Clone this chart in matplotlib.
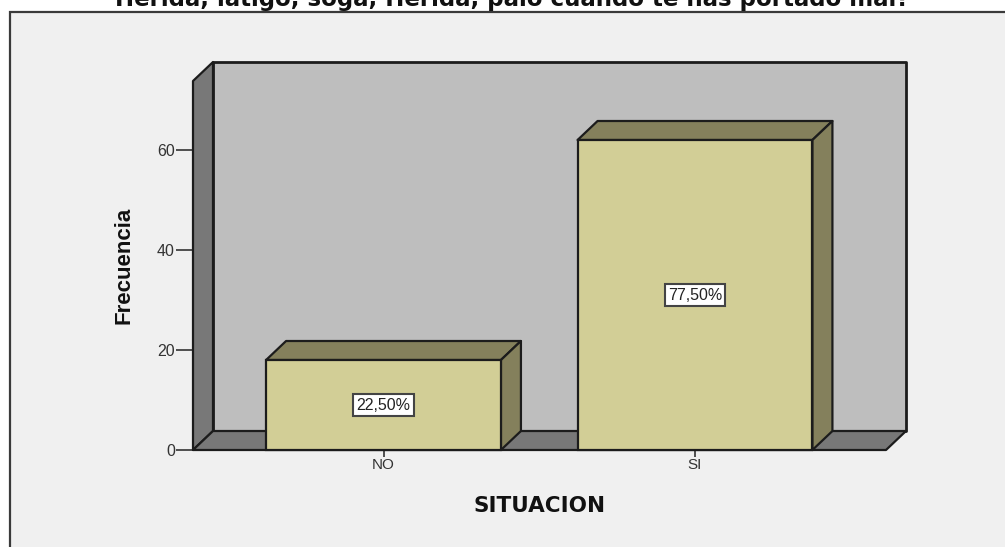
import matplotlib
matplotlib.use("Agg")
import matplotlib.pyplot as plt
from matplotlib.patches import Polygon, Rectangle

categorias = ["NO", "SI"]
frecuencia = [18, 62]
porcentajes = ["22,50%", "77,50%"]
marcas_y = [0, 20, 40, 60]
titulo = "Herida, latigo, soga, Herida, palo cuando te has portado mal?"

W, H = 1005, 547
FONDO = "#f0f0f0"
PARED = "#bebebe"
LATERAL = "#787878"
BARRA = "#d2ce96"
BARRA_OSC = "#84805c"
LINEA = "#1c1c1c"

plt.rcParams["font.family"] = ["Liberation Sans", "DejaVu Sans"]

fig = plt.figure(figsize=(W / 100, H / 100), dpi=100, facecolor="white")

# marco gris del grafico, se corta por la derecha y por abajo
fig.add_artist(Rectangle((10 / W, -0.02), 1.02, 1.02 - 12 / H, transform=fig.transFigure,
                         fc=FONDO, ec="#3a3a3a", lw=1.6, zorder=-1))

# ejes colocados en pixeles
ax = fig.add_axes([193 / W, 1 - 450 / H, 693 / W, 369 / H])
ax.set_xlim(-0.6116, 1.6132)
ax.set_ylim(0, 73.8)
ax.patch.set_visible(False)
for s in ax.spines.values():
    s.set_visible(False)

x0, x1 = ax.get_xlim()
y0, y1 = ax.get_ylim()
dx = 20 / 311.5  # profundidad del efecto 3D
dy = 3.8
ancho = 0.754


def caja(puntos, color, z, lw=1.6):
    ax.add_patch(Polygon(puntos, closed=True, fc=color, ec=LINEA, lw=lw, zorder=z,
                         clip_on=False, joinstyle="round"))


# paredes
caja([(x0 + dx, y0 + dy), (x1 + dx, y0 + dy), (x1 + dx, y1 + dy), (x0 + dx, y1 + dy)], PARED, 1, 2)
caja([(x0, y0), (x0 + dx, y0 + dy), (x0 + dx, y1 + dy), (x0, y1)], LATERAL, 2)
caja([(x0, y0), (x1, y0), (x1 + dx, y0 + dy), (x0 + dx, y0 + dy)], LATERAL, 2)

# barras
for i, v in enumerate(frecuencia):
    a = i - ancho / 2
    b = i + ancho / 2
    caja([(a, v), (b, v), (b + dx, v + dy), (a + dx, v + dy)], BARRA_OSC, 3)
    caja([(b, 0), (b + dx, dy), (b + dx, v + dy), (b, v)], BARRA_OSC, 3)
    ax.bar(i, v, width=ancho, color=BARRA, edgecolor=LINEA, linewidth=1.6, zorder=4, clip_on=False)
    ax.text(i, v / 2, porcentajes[i], ha="center", va="center", fontsize=11.5, color="#222222",
            zorder=5, bbox=dict(boxstyle="square,pad=0.2", fc="white", ec="#444444", lw=1.5))

ax.set_xticks(range(len(categorias)), categorias)
ax.set_yticks(marcas_y)
ax.tick_params(axis="x", length=5, width=1.2, color="#333333", labelsize=11, labelcolor="#333333", pad=1)
ax.tick_params(axis="y", length=12, width=1.2, color="#333333", labelsize=11.5, labelcolor="#333333", pad=1)

fig.text(539.5 / W, 1 - 506 / H, "SITUACION", ha="center", va="center", fontsize=15.5, fontweight="bold",
         color="#111111", family="DejaVu Sans")
fig.text(124 / W, 1 - 265 / H, "Frecuencia", ha="center", va="center", rotation=90, fontsize=16,
         fontweight="bold", color="#111111")
fig.text(512 / W, 1 - 6 / H, titulo, ha="center", va="baseline", fontsize=16.5, fontweight="bold",
         color="#111111", family="DejaVu Sans")

fig.savefig("out.png", dpi=100, facecolor="white")
